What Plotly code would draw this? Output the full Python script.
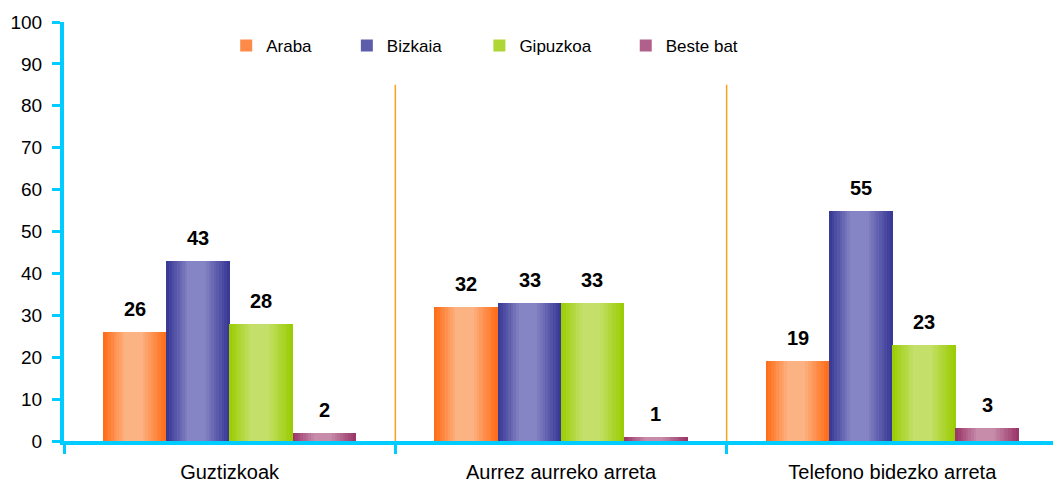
import plotly.graph_objects as go

categories = ["Guztizkoak", "Aurrez aurreko arreta", "Telefono bidezko arreta"]
series_names = ["Araba", "Bizkaia", "Gipuzkoa", "Beste bat"]
araba = [26, 32, 19]
bizkaia = [43, 33, 55]
gipuzkoa = [28, 33, 23]
beste_bat = [2, 1, 3]
y_ticks = list(range(0, 101, 10))

series_values = [araba, bizkaia, gipuzkoa, beste_bat]
dark = ["#FF6A13", "#353594", "#99CC00", "#993366"]
light = ["#FCB383", "#8584C4", "#C4E06A", "#C68CAA"]
mid = ["#FE8A4A", "#5D5DAC", "#AED635", "#B0608A"]

bar_w = 0.191
offsets = [-0.286, -0.095, 0.095, 0.286]
N = 24
legend_x = [0.164, 0.286, 0.42, 0.568]


def hex2rgb(h):
    h = h.lstrip("#")
    return tuple(int(h[i:i + 2], 16) for i in (0, 2, 4))


def mix(c1, c2, t):
    a, b = hex2rgb(c1), hex2rgb(c2)
    return "rgb(%d,%d,%d)" % tuple(round(a[i] + (b[i] - a[i]) * t) for i in range(3))


def profile(t):
    if t < 0.35:
        return t / 0.35
    if t < 0.6:
        return 1.0
    return max(0.0, 1 - (t - 0.6) / 0.4)


fig = go.Figure()
for s, vals in enumerate(series_values):
    xs, ys, cols = [], [], []
    for i, v in enumerate(vals):
        for k in range(N):
            t = (k + 0.5) / N
            xs.append(i + offsets[s] - bar_w / 2 + t * bar_w)
            ys.append(v)
            cols.append(mix(dark[s], light[s], profile(t)))
    fig.add_trace(go.Bar(x=xs, y=ys, width=bar_w / N * 1.15,
                         marker=dict(color=cols, line=dict(width=0)),
                         showlegend=False, hoverinfo="skip"))
    lg = "legend" if s == 0 else "legend%d" % (s + 1)
    fig.add_trace(go.Bar(x=[None], y=[None], name=series_names[s], legend=lg,
                         marker=dict(color=mid[s], line=dict(width=0))))

for s, vals in enumerate(series_values):
    for i, v in enumerate(vals):
        fig.add_annotation(x=i + offsets[s], y=v, text=str(v), showarrow=False,
                           yanchor="bottom", yshift=10,
                           font=dict(family="Liberation Sans", size=20, color="black", weight="bold"))

for i in range(len(categories) - 1):
    fig.add_shape(type="line", x0=i + 0.5, x1=i + 0.5, y0=0, y1=85,
                  xref="x", yref="y", line=dict(color="#F7A21B", width=1.5), layer="below")

axis_color = "#00CCFF"
legend_common = dict(orientation="h", y=0.943, xanchor="left", yanchor="middle",
                     font=dict(size=17), bgcolor="rgba(0,0,0,0)")
fig.update_layout(
    width=1053, height=485,
    margin=dict(l=64, r=0, t=22, b=44),
    plot_bgcolor="white", paper_bgcolor="white",
    barmode="overlay", bargap=0,
    font=dict(family="Liberation Sans", size=18, color="black"),
    xaxis=dict(range=[-0.5, 2.485], tickvals=[0, 1, 2], ticktext=categories,
               ticks="", showgrid=False, zeroline=False, automargin=False,
               showline=True, linecolor=axis_color, linewidth=4,
               tickfont=dict(size=20), ticklabelstandoff=10,
               minor=dict(tickvals=[-0.5, 0.5, 1.5], ticks="outside", ticklen=9,
                          tickwidth=3, tickcolor=axis_color, showgrid=False)),
    yaxis=dict(range=[0, 100], tickvals=y_ticks, ticks="outside", ticklen=8,
               tickwidth=3, tickcolor=axis_color, showgrid=False, zeroline=False,
               showline=True, linecolor=axis_color, linewidth=4, automargin=False,
               tickfont=dict(size=19), ticklabelstandoff=6),
    legend=dict(x=legend_x[0], **legend_common),
    legend2=dict(x=legend_x[1], **legend_common),
    legend3=dict(x=legend_x[2], **legend_common),
    legend4=dict(x=legend_x[3], **legend_common),
)

fig.write_html("out.html", config={"displayModeBar": False},
               post_script="document.body.style.margin='0';document.body.style.overflow='hidden';")
